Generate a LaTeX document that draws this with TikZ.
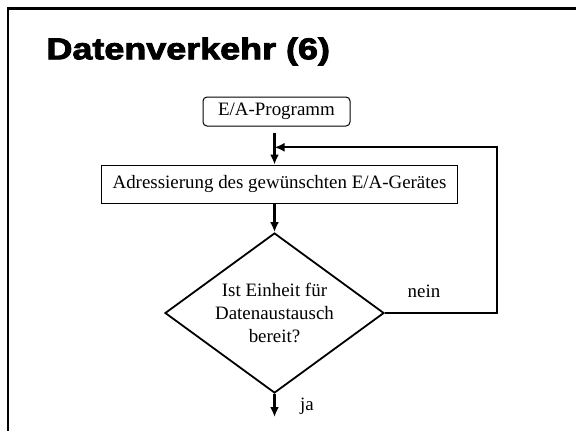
\documentclass[tikz,border=0pt]{standalone}
\usepackage{fontspec}
\setmainfont{Liberation Serif}
\newfontfamily\titlefont{Liberation Sans}[BoldFeatures={FakeBold=2.6}]
\usetikzlibrary{arrows.meta,shapes.geometric}

\tikzset{
	stepbox/.style={draw,line width=1bp,inner sep=0pt,font=\fontsize{19}{23}\selectfont},
	flow/.style={line width=2.2bp,-{Latex[length=10bp,width=9bp]}},
	label text/.style={font=\fontsize{19}{23}\selectfont,anchor=base}
}

\begin{document}
\begin{tikzpicture}[x=1bp,y=-1bp]
				\useasboundingbox (0,0) rectangle (576,430);
				\draw[line width=2.3bp] (8,432) -- (8,8.5) -- (578,8.5);
				
				\node (title) at (43,59.3) [anchor=base west] {\titlefont\bfseries\fontsize{30.3}{34}\selectfont\scalebox{1.19}[1]{Datenverkehr (6)}};
				
				\coordinate (merge) at (274.5,147.3);
				\coordinate (back) at (497,147.3);
				\coordinate (exit) at (274.5,417);
				
				\node (prog) at (276.5,111.5) [stepbox,rounded corners=4bp,minimum width=147bp,minimum height=29bp] {E/A-Programm};
				\node (addr) at (279.5,184) [stepbox,minimum width=355bp,minimum height=38bp] {Adressierung des gewünschten E/A-Gerätes};
				\node (test) at (274.5,313) [stepbox,diamond,aspect=1.37,line width=1.8bp,minimum width=219bp,minimum height=160bp,align=center] {Ist Einheit für\\Datenaustausch\\bereit?};
				
				\node (nein) at (424,297) [label text] {nein};
				\node (ja) at (307,410) [label text] {ja};
				
				\draw[flow,shorten <=6bp] (prog.south -| test.north) -- (addr.north -| test.north);
				\draw[flow] (addr.south -| test.north) -- (test.north);
				\draw[flow] (test.east) -| (back) -- (merge);
				\draw[flow] (test.south) -- (exit);
			\end{tikzpicture}
\end{document}
